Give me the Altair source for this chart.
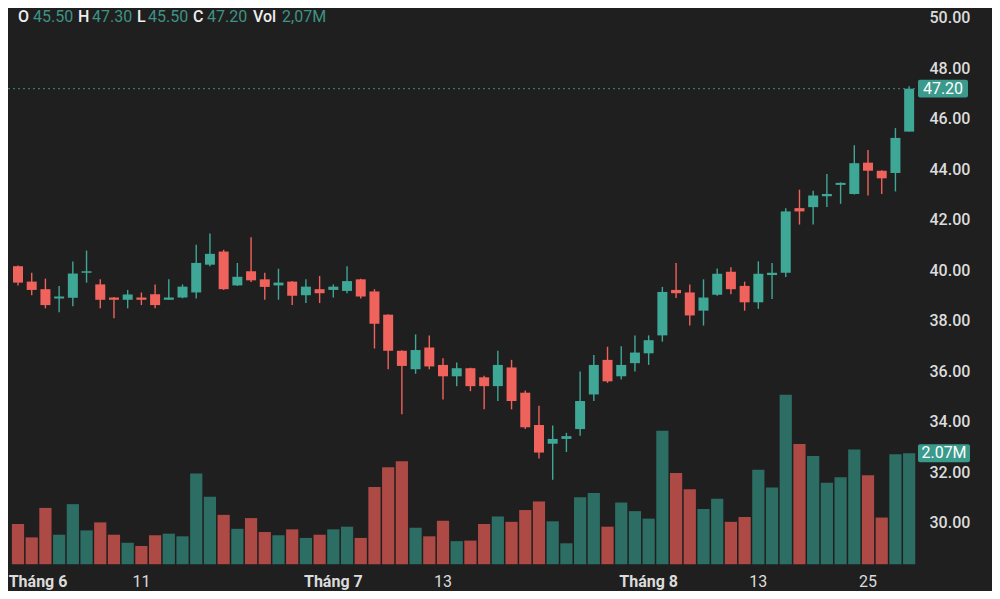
import altair as alt
import pandas as pd

# ---- data (66 daily candles) ----
open_ = [40.17, 39.56, 39.26, 38.89, 38.92, 39.91, 39.45, 38.93, 38.84, 38.93,
         39.06, 38.84, 38.93, 39.13, 40.23, 40.75, 39.41, 39.97, 39.65, 39.41,
         39.56, 39.02, 39.26, 39.23, 39.19, 39.65, 39.17, 38.25, 36.82, 36.09,
         36.95, 36.26, 35.81, 36.13, 35.77, 35.42, 36.16, 35.16, 33.88, 33.14,
         33.33, 33.72, 35.09, 36.46, 35.81, 36.33, 36.72, 37.43, 39.23, 39.13,
         38.41, 39.04, 39.95, 39.39, 38.74, 39.82, 39.91, 42.47, 42.51, 42.94,
         43.39, 43.03, 44.27, 43.95, 43.86, 45.50]
high = [40.20, 39.91, 39.68, 39.39, 40.36, 40.79, 39.65, 38.95, 39.23, 39.13,
        39.45, 39.65, 39.45, 41.02, 41.47, 40.82, 40.30, 41.32, 39.91, 40.07,
        39.58, 39.65, 39.78, 39.45, 40.17, 39.67, 39.26, 38.27, 36.84, 37.47,
        37.43, 36.52, 36.36, 36.15, 35.83, 36.82, 36.46, 35.25, 34.64, 33.86,
        33.57, 36.00, 36.65, 36.98, 37.00, 37.43, 37.43, 39.35, 40.30, 39.45,
        39.65, 40.08, 40.13, 39.56, 40.36, 40.30, 42.47, 43.20, 43.16, 43.82,
        43.49, 44.96, 44.77, 43.97, 45.64, 47.30]
low = [39.41, 39.02, 38.50, 38.35, 38.58, 39.52, 38.50, 38.11, 38.50, 38.63,
       38.50, 38.84, 38.90, 38.89, 40.17, 39.23, 39.39, 39.54, 38.84, 38.84,
       38.63, 38.71, 38.71, 38.93, 39.10, 38.89, 36.91, 36.09, 34.31, 35.91,
       36.09, 34.89, 35.42, 35.22, 34.50, 34.83, 34.50, 33.72, 32.55, 31.71,
       32.81, 33.46, 34.83, 35.55, 35.68, 36.00, 36.26, 37.18, 38.91, 37.82,
       37.82, 39.00, 39.06, 38.41, 38.48, 38.87, 39.74, 41.82, 41.82, 42.51,
       42.64, 43.01, 42.97, 43.03, 43.13, 45.50]
close = [39.52, 39.23, 38.63, 38.97, 39.88, 39.97, 38.84, 38.84, 39.05, 38.84,
         38.63, 38.93, 39.36, 40.30, 40.66, 39.26, 39.75, 39.61, 39.35, 39.52,
         39.00, 39.36, 39.10, 39.36, 39.58, 38.97, 37.89, 36.82, 36.22, 36.85,
         36.20, 35.81, 36.13, 35.42, 35.42, 36.26, 34.83, 33.79, 32.79, 33.33,
         33.44, 34.83, 36.26, 35.61, 36.26, 36.75, 37.24, 39.15, 39.10, 38.22,
         38.93, 39.87, 39.26, 38.74, 39.87, 39.91, 42.34, 42.34, 42.97, 43.03,
         43.47, 44.25, 43.95, 43.65, 45.25, 47.20]
volume = [0.75, 0.50, 1.05, 0.55, 1.12, 0.63, 0.78, 0.55, 0.40, 0.34,
          0.54, 0.57, 0.52, 1.69, 1.26, 0.92, 0.66, 0.86, 0.60, 0.54,
          0.65, 0.49, 0.55, 0.65, 0.70, 0.49, 1.44, 1.81, 1.92, 0.68,
          0.52, 0.81, 0.43, 0.44, 0.75, 0.89, 0.79, 1.01, 1.17, 0.80,
          0.39, 1.25, 1.33, 0.70, 1.15, 0.99, 0.85, 2.49, 1.70, 1.40,
          1.03, 1.22, 0.79, 0.88, 1.76, 1.43, 3.16, 2.24, 2.02, 1.52,
          1.62, 2.14, 1.66, 0.87, 2.05, 2.07]

label_idx = [1, 9, 23, 31, 46, 54, 62]
label_text = ["Tháng 6", "11", "Tháng 7", "13", "Tháng 8", "13", "25"]
price_ticks = [30, 32, 34, 36, 38, 40, 42, 44, 46, 48, 50]

# ---- styling ----
BG = "#1f1f1f"
UP = "#3fa796"
DOWN = "#f0625c"
VUP = "#2c6e64"
VDOWN = "#ae4a45"
TXT = "#dcdcdc"
FONT = "Roboto"

W, H = 910, 559

df = pd.DataFrame({"i": list(range(len(open_))), "open": open_, "high": high,
                   "low": low, "close": close, "vol": volume})
labels = pd.DataFrame({"i": label_idx, "t": label_text})
labels["month"] = labels["t"].str.startswith("Tháng")
last = pd.DataFrame({"p": [close[-1]], "v": [volume[-1]]})

xs = alt.Scale(domain=[-0.7294, 65.646], nice=False, zero=False, padding=0)
ps = alt.Scale(domain=[28.257, 50.396], nice=False, zero=False, padding=0)
vs = alt.Scale(domain=[-0.052, 10.371], nice=False, zero=False, padding=0)
X = alt.X("i:Q", scale=xs, axis=None)

is_up = "datum.close >= datum.open"

vol = alt.Chart(df).mark_bar(size=12.2).encode(
    x=X,
    y=alt.Y("vol:Q", scale=vs, axis=None),
    y2=alt.datum(0),
    color=alt.condition(is_up, alt.value(VUP), alt.value(VDOWN)),
)

vol_box = alt.Chart(last).transform_calculate(
    a="datum.v - 0.168", b="datum.v + 0.168"
).mark_rect(color="#3a9a8b", cornerRadius=2).encode(
    x=alt.value(910), x2=alt.value(962),
    y=alt.Y("a:Q", scale=vs, axis=None), y2="b:Q",
)
vol_txt = alt.Chart(last).transform_calculate(
    t="format(datum.v, '.2f') + 'M'"
).mark_text(color="#ffffff", fontSize=16, font=FONT, align="center",
            baseline="middle").encode(
    x=alt.value(936), y=alt.Y("v:Q", scale=vs, axis=None), text="t:N",
)

vol_layer = alt.layer(vol, vol_box, vol_txt)

wick = alt.Chart(df).mark_rule(strokeWidth=1.4).encode(
    x=X,
    y=alt.Y("low:Q", scale=ps, axis=alt.Axis(
        orient="right", values=price_ticks, format=".2f", title=None,
        domain=False, ticks=False, grid=False, labelColor=TXT,
        labelFontSize=16, labelFont=FONT, labelFontWeight=500,
        labelPadding=11, labelAlign="left", labelOverlap=False,
        labelFlush=False, labelBound=False)),
    y2="high:Q",
    color=alt.condition(is_up, alt.value(UP), alt.value(DOWN)),
)
body = alt.Chart(df).mark_bar(size=10).encode(
    x=X,
    y=alt.Y("open:Q", scale=ps),
    y2="close:Q",
    color=alt.condition(is_up, alt.value(UP), alt.value(DOWN)),
)
last_line = alt.Chart(last).mark_rule(color="#3d9080", strokeWidth=1,
                                      strokeDash=[2, 3]).encode(
    x=alt.value(0), x2=alt.value(910), y=alt.Y("p:Q", scale=ps),
)
p_box = alt.Chart(last).transform_calculate(
    a="datum.p - 0.35", b="datum.p + 0.35"
).mark_rect(color="#3a9a8b", cornerRadius=2).encode(
    x=alt.value(910), x2=alt.value(960),
    y=alt.Y("a:Q", scale=ps), y2="b:Q",
)
p_txt = alt.Chart(last).mark_text(color="#ffffff", fontSize=16, font=FONT,
                                  align="center", baseline="middle").encode(
    x=alt.value(935), y=alt.Y("p:Q", scale=ps),
    text=alt.Text("p:Q", format=".2f"),
)

price_layer = alt.layer(wick, body, last_line, p_box, p_txt)

# first month label sits at the left edge: anchor it left so it stays whole
first_month = alt.Chart(labels).transform_filter("datum.month && datum.i <= 1").mark_text(
    color=TXT, fontSize=16, font=FONT, fontWeight="bold", baseline="middle",
    align="left", dx=-23
).encode(x=X, y=alt.value(574), text="t:N")
month_txt = alt.Chart(labels).transform_filter("datum.month && datum.i > 1").mark_text(
    color=TXT, fontSize=16, font=FONT, fontWeight="bold", baseline="middle"
).encode(x=X, y=alt.value(574), text="t:N")
day_txt = alt.Chart(labels).transform_filter("!datum.month").mark_text(
    color=TXT, fontSize=16, font=FONT, baseline="middle"
).encode(x=X, y=alt.value(574), text="t:N")

# header line: last candle's OHLC + volume
hdr_vals = ["%.2f" % open_[-1], "%.2f" % high[-1], "%.2f" % low[-1],
            "%.2f" % close[-1], ("%.2fM" % volume[-1]).replace(".", ",")]
hdr_keys = ["O", "H", "L", "C", "Vol"]
key_x = [10, 70, 129, 185, 245]
val_x = [25, 84, 140, 199, 274]
hdr = []
for k, kx, v, vx in zip(hdr_keys, key_x, hdr_vals, val_x):
    hdr.append(alt.Chart(last).mark_text(
        text=k, color="#eeeeee", fontSize=16, font=FONT, fontWeight=500,
        align="left", baseline="middle").encode(x=alt.value(kx), y=alt.value(9)))
    hdr.append(alt.Chart(last).mark_text(
        text=v, color="#3d9385", fontSize=16, font=FONT,
        align="left", baseline="middle").encode(x=alt.value(vx), y=alt.value(9)))

text_layer = alt.layer(first_month, month_txt, day_txt, *hdr)

chart = alt.layer(vol_layer, price_layer, text_layer).resolve_scale(
    y="independent"
).properties(
    width=W, height=H, background=BG,
    padding={"left": 0, "top": 0, "right": 74, "bottom": 24},
    autosize=alt.AutoSizeParams(type="none"),
).configure_view(stroke=None)

chart.save("out.html", embed_options={"renderer": "svg", "actions": False})
